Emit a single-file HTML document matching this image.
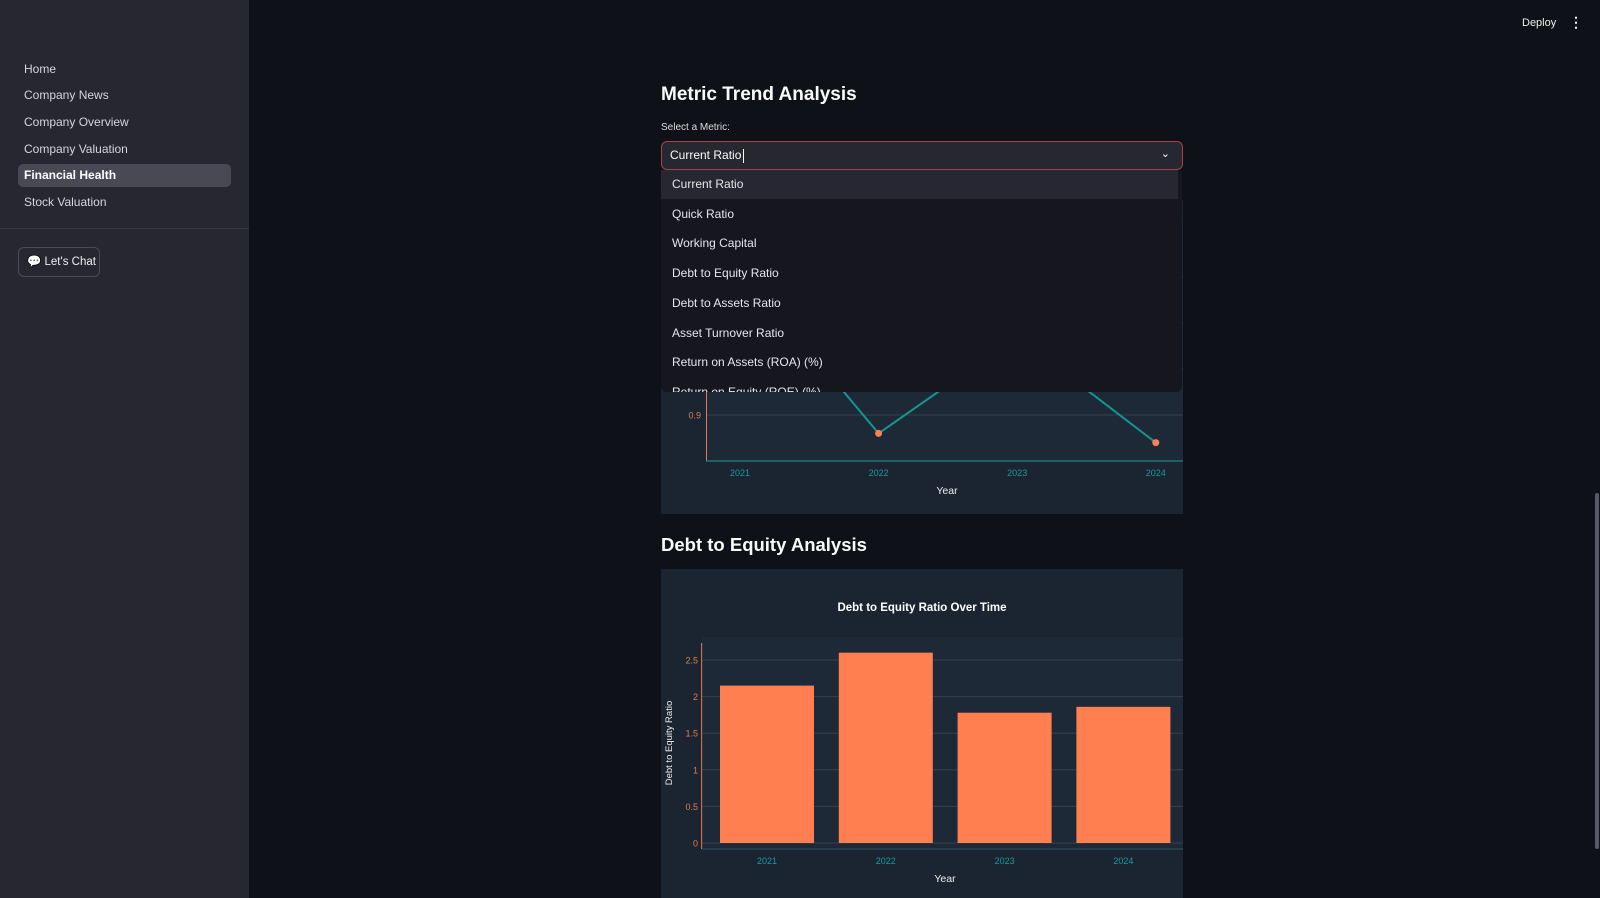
<!DOCTYPE html>
<html><head><meta charset="utf-8"><style>
*{margin:0;padding:0;box-sizing:border-box}
body{width:1600px;height:898px;overflow:hidden;background:#0e1117;font-family:"Liberation Sans",sans-serif;color:#fafafa;position:relative}
.abs{position:absolute}
#sidebar{left:0;top:0;width:249px;height:898px;background:#262730}
.nav{position:absolute;left:24px;font-size:12px;color:#d5d6dc;line-height:20px;white-space:nowrap}
.opt{position:absolute;left:0;width:517px;height:29px;line-height:29px;padding-left:11px;font-size:12px;color:#e6e6ea;white-space:nowrap}
</style></head><body>
<div id="sidebar" class="abs">
<div class="nav" style="top:59px">Home</div>
<div class="nav" style="top:85px">Company News</div>
<div class="nav" style="top:112px">Company Overview</div>
<div class="nav" style="top:139px">Company Valuation</div>
<div class="abs" style="left:18px;top:164px;width:213px;height:23px;background:#484955;border-radius:5px"></div>
<div class="nav" style="top:165px;font-weight:bold;color:#fff">Financial Health</div>
<div class="nav" style="top:192px">Stock Valuation</div>
<div class="abs" style="left:0;top:228px;width:249px;height:1px;background:#363742"></div>
<div class="abs" style="left:18px;top:247px;width:82px;height:30px;border:1px solid #4a4b57;border-radius:6px;font-size:11.5px;line-height:28px;padding-left:8px;color:#eee;white-space:nowrap">💬 Let's Chat</div>
</div>
<div class="abs" style="left:1522px;top:17px;font-size:11px;color:#eee">Deploy</div>
<div class="abs" style="left:1569px;top:14px;font-size:14px;color:#eee;font-weight:bold">⋮</div>
<div class="abs" style="left:1595px;top:493px;width:4px;height:356px;background:#555a66;border-radius:2px"></div>

<div class="abs" style="left:661px;top:84px;font-size:19px;font-weight:bold">Metric Trend Analysis</div>
<div class="abs" style="left:661px;top:122px;font-size:10px;color:#ddd">Select a Metric:</div>

<svg class="abs" style="left:0;top:0" width="1600" height="898">
<g id="lineChart"></g>
<g id="barChart"></g>
</svg>

<div class="abs" style="left:661px;top:141px;width:522px;height:29px;background:#262730;border:1px solid #a8404a;border-radius:6px;font-size:12px;line-height:27px;padding-left:8px;white-space:nowrap">Current Ratio<span style="display:inline-block;width:1px;height:14px;background:#fff;vertical-align:middle;margin-left:2px"></span><span style="position:absolute;right:12px;top:-1px;font-size:11px">⌄</span></div>
<div class="abs" style="left:661px;top:170px;width:521px;height:222px;background:#16171e;border-radius:0 0 6px 6px;overflow:hidden">
<div class="opt" style="top:0;background:#262730">Current Ratio</div>
<div class="opt" style="top:29.7px">Quick Ratio</div>
<div class="opt" style="top:59.4px">Working Capital</div>
<div class="opt" style="top:89px">Debt to Equity Ratio</div>
<div class="opt" style="top:118.8px">Debt to Assets Ratio</div>
<div class="opt" style="top:148.5px">Asset Turnover Ratio</div>
<div class="opt" style="top:178px">Return on Assets (ROA) (%)</div>
<div class="opt" style="top:207.9px">Return on Equity (ROE) (%)</div>
</div>
<div class="abs" style="left:661px;top:534px;font-size:18.5px;font-weight:bold">Debt to Equity Analysis</div>

<script>
const lineYears=["2021","2022","2023","2024"];
const lineValues=[1.22,0.86,1.07,0.84];
const lineTicks=[0.9,1,1.1,1.2];
const barYears=["2021","2022","2023","2024"];
const barValues=[2.15,2.6,1.78,1.86];
const barTicks=[0,0.5,1,1.5,2,2.5];
const NS="http://www.w3.org/2000/svg";
function mk(p,t,a,txt){const e=document.createElementNS(NS,t);for(const k in a)e.setAttribute(k,a[k]);if(txt!==undefined)e.textContent=txt;p.appendChild(e);return e;}
(function(){
const g=document.getElementById('lineChart');
const r=mk(g,'rect',{x:661,y:200,width:522,height:314,fill:'#1b2532'});

mk(g,'rect',{x:706,y:220,width:477,height:241,fill:'#1e2938'});
const xs=i=>740+i*138.6, ys=v=>415-(v-0.9)*460;
lineTicks.forEach(t=>{const y=ys(t);if(y<461&&y>220){const gl=mk(g,'line',{x1:706,x2:1183,y1:y,y2:y,stroke:'#34404f','stroke-width':1});

const tl=mk(g,'text',{x:701,y:y+3.5,'text-anchor':'end','font-size':9,fill:'#e07a50'},t);
}});
mk(g,'line',{x1:706.5,x2:706.5,y1:220,y2:461,stroke:'#e07a50'});
mk(g,'line',{x1:706,x2:1183,y1:461,y2:461,stroke:'#1a9a98'});
const pts=lineValues.map((v,i)=>xs(i)+','+ys(v)).join(' ');
const pl=mk(g,'polyline',{points:pts,fill:'none',stroke:'#169590','stroke-width':2});

lineValues.forEach((v,i)=>{const c=mk(g,'circle',{cx:xs(i),cy:ys(v),r:3.5,fill:'#ff7f50'});

const tl=mk(g,'text',{x:xs(i),y:476,'text-anchor':'middle','font-size':9,fill:'#1a9a98'},lineYears[i]);
});
const xt=mk(g,'text',{x:947,y:494,'text-anchor':'middle','font-size':10.5,fill:'#eee'},'Year');

})();
(function(){
const g=document.getElementById('barChart');
const p=mk(g,'rect',{x:661,y:569,width:522,height:340,fill:'#1b2532'});

mk(g,'rect',{x:702,y:637,width:481,height:212,fill:'#1e2938'});
const tt=mk(g,'text',{x:922,y:611,'text-anchor':'middle','font-size':11.5,'font-weight':'bold',fill:'#fff'},'Debt to Equity Ratio Over Time');

const step=118.8, x0=707.6, xc=i=>x0+step*(i+0.5), ys=v=>843-v*73.2;
barTicks.forEach(t=>{const y=ys(t);
const gl=mk(g,'line',{x1:702,x2:1183,y1:y,y2:y,stroke:'#34404f','stroke-width':1});

const tl=mk(g,'text',{x:698,y:y+3.5,'text-anchor':'end','font-size':9,fill:'#e07a50'},t);
});
barValues.forEach((v,i)=>{const b=mk(g,'rect',{x:xc(i)-47,y:ys(v),width:94,height:v*73.2,fill:'#ff7f50'});

const tl=mk(g,'text',{x:xc(i),y:864,'text-anchor':'middle','font-size':9,fill:'#1a9a98'},barYears[i]);
});
mk(g,'line',{x1:701.6,x2:701.6,y1:643,y2:849,stroke:'#e07a50'});
mk(g,'line',{x1:702,x2:1183,y1:849,y2:849,stroke:'#2a5560'});
const xt=mk(g,'text',{x:945,y:882,'text-anchor':'middle','font-size':10.5,fill:'#eee'},'Year');

const yt=mk(g,'text',{x:672,y:743,'text-anchor':'middle','font-size':9.5,fill:'#eee',transform:'rotate(-90 672 743)'},'Debt to Equity Ratio');

})();
</script>
</body></html>
